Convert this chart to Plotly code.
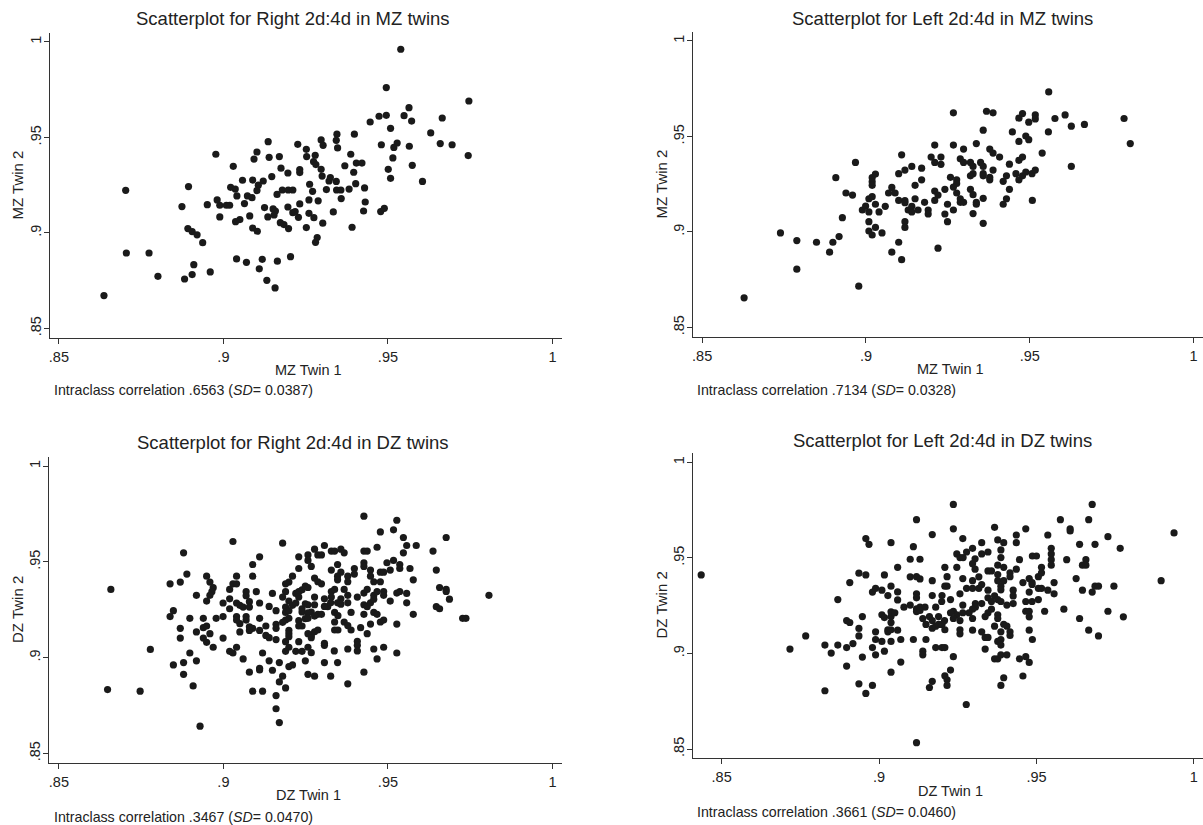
import plotly.graph_objects as go

# (twin1, twin2) pairs
mz_right = [
    (.8637,.8672),(.8703,.9223),(.8705,.8895),(.8774,.8895),(.8801,.8773),(.8977,.9412),(.9030,.9349),
    (.8894,.9243),(.8874,.9138),(.8951,.9148),(.8981,.9173),(.8989,.9145),(.9009,.9145),(.9019,.9145),
    (.8989,.9084),(.8892,.9023),(.8905,.9007),(.8920,.8990),(.8937,.8949),(.8910,.8834),(.8905,.8782),
    (.8882,.8759),(.8960,.8796),(.9040,.8864),(.9070,.8846),(.9118,.8862),(.9109,.8812),(.9164,.8852),
    (.9204,.8876),(.9132,.8752),(.9157,.8712),(.9136,.9478),(.9102,.9424),(.9093,.9387),(.9139,.9396),
    (.9170,.9400),(.9226,.9464),(.9252,.9438),(.9253,.9400),(.9175,.9339),(.9196,.9314),(.9232,.9332),
    (.9232,.9316),(.9147,.9295),(.9121,.9272),(.9089,.9277),(.9058,.9276),(.9022,.9239),(.9036,.9230),
    (.9106,.9250),(.9102,.9222),(.9041,.9194),(.9073,.9194),(.9087,.9185),(.9064,.9154),(.9163,.9202),
    (.9179,.9225),(.9197,.9225),(.9211,.9225),(.9262,.9255),(.9125,.9133),(.9151,.9126),(.9158,.9115),
    (.9154,.9094),(.9135,.9084),(.9196,.9136),(.9232,.9152),(.9260,.9173),(.9080,.9089),(.9037,.9059),
    (.9050,.9070),(.9089,.9026),(.9103,.9009),(.9173,.9054),(.9184,.9044),(.9198,.9023),(.9211,.9106),
    (.9218,.9112),(.9228,.9082),(.9252,.9028),(.9260,.9103),
    (.9539,.9962),(.9495,.9761),(.9746,.9691),(.9564,.9656),(.9549,.9614),(.9572,.9586),(.9495,.9616),
    (.9473,.9611),(.9446,.9581),(.9665,.9602),(.9508,.9548),(.9630,.9524),(.9345,.9517),(.9398,.9517),
    (.9297,.9487),(.9343,.9485),(.9303,.9459),(.9347,.9445),(.9480,.9462),(.9528,.9471),(.9518,.9448),
    (.9565,.9454),(.9659,.9468),(.9695,.9462),(.9744,.9405),(.9387,.9412),(.9279,.9407),(.9274,.9373),
    (.9281,.9358),(.9297,.9333),(.9369,.9352),(.9404,.9366),(.9421,.9366),(.9515,.9393),(.9501,.9333),
    (.9574,.9354),(.9396,.9318),(.9300,.9298),(.9325,.9290),(.9321,.9272),(.9343,.9270),(.9508,.9286),
    (.9605,.9270),(.9402,.9258),(.9313,.9227),(.9271,.9218),(.9344,.9225),(.9357,.9225),(.9382,.9230),
    (.9429,.9236),(.9358,.9180),(.9288,.9168),(.9431,.9162),(.9426,.9115),(.9334,.9110),(.9478,.9112),
    (.9489,.9129),(.9275,.9080),(.9302,.9051),(.9391,.9030),(.9285,.8976),(.9280,.8951),
]

mz_left = [
    (.8628,.8655),(.8739,.8995),(.8789,.8955),(.8789,.8805),(.8849,.8946),(.8899,.8946),(.8889,.8894),
    (.8918,.8976),(.8928,.9075),(.8908,.9284),(.8939,.9204),(.8959,.9193),(.8968,.9364),(.8978,.8716),
    (.8989,.9115),(.8999,.9136),(.9009,.9174),(.9019,.9185),(.9009,.9105),(.9009,.9054),(.9009,.9005),
    (.9019,.8984),(.9029,.9024),(.9049,.8995),(.9029,.9145),(.9040,.9105),(.9059,.9134),(.9019,.9284),
    (.9019,.9263),(.9019,.9244),(.9029,.9303),(.9069,.9204),(.9079,.9233),(.9089,.9204),(.9100,.9305),
    (.9109,.9404),(.9119,.9324),(.9140,.9343),(.9170,.9334),(.9150,.9244),(.9170,.9273),(.9100,.9165),
    (.9119,.9164),(.9119,.9153),(.9129,.9115),(.9140,.9134),(.9140,.9105),(.9150,.9174),(.9159,.9115),
    (.9179,.9155),(.9190,.9115),(.9190,.9094),(.9119,.9054),(.9119,.9024),(.9100,.8946),(.9079,.8894),
    (.9109,.8855),(.9220,.8915),(.9210,.9455),(.9199,.9392),(.9229,.9392),(.9210,.9364),(.9229,.9354),
    (.9210,.9214),(.9220,.9193),(.9210,.9165),(.9241,.9223),(.9249,.9145),(.9241,.9094),(.9249,.9054),
    (.9558,.9733),(.9267,.9624),(.9368,.9632),(.9388,.9624),(.9467,.9596),(.9478,.9620),(.9497,.9575),
    (.9517,.9613),(.9517,.9592),(.9577,.9594),(.9608,.9613),(.9627,.9554),(.9667,.9563),(.9788,.9594),
    (.9807,.9463),(.9358,.9533),(.9447,.9524),(.9557,.9524),(.9467,.9474),(.9488,.9502),(.9497,.9483),
    (.9267,.9455),(.9298,.9434),(.9337,.9463),(.9378,.9434),(.9388,.9413),(.9408,.9392),(.9538,.9413),
    (.9467,.9375),(.9478,.9392),(.9288,.9383),(.9298,.9364),(.9319,.9364),(.9327,.9343),(.9350,.9364),
    (.9358,.9343),(.9438,.9355),(.9627,.9343),(.9388,.9324),(.9358,.9305),(.9358,.9294),(.9327,.9305),
    (.9319,.9294),(.9378,.9286),(.9378,.9273),(.9429,.9294),(.9419,.9265),(.9458,.9305),(.9467,.9273),
    (.9478,.9294),(.9488,.9314),(.9507,.9305),(.9517,.9324),(.9258,.9286),(.9277,.9273),(.9277,.9254),
    (.9267,.9235),(.9277,.9204),(.9288,.9174),(.9288,.9155),(.9298,.9155),(.9319,.9223),(.9327,.9195),
    (.9337,.9155),(.9337,.9145),(.9358,.9176),(.9438,.9223),(.9429,.9174),(.9419,.9145),(.9508,.9165),
    (.9267,.9115),(.9327,.9096),(.9358,.9045),
]

dz_right = [
    (.8658,.9356),(.8648,.8833),(.8747,.8825),(.8778,.9043),(.8929,.8642),(.8879,.9547),(.8838,.9385),
    (.8869,.9394),(.8889,.9436),(.8918,.9325),(.8838,.9214),(.8848,.9245),(.8869,.9153),(.8869,.9102),
    (.8898,.9205),(.8918,.9134),(.8939,.9205),(.8939,.9156),(.8949,.9165),(.8939,.9102),(.8949,.9080),
    (.8959,.9125),(.8969,.9054),(.8898,.9024),(.8918,.8983),(.8879,.8974),(.8848,.8962),(.8879,.8913),
    (.8908,.8852),(.8949,.9425),(.8959,.9394),(.8969,.9365),(.8965,.9344),(.8959,.9325),(.8949,.9295),
    (.8978,.9205),(.8999,.9214),(.8999,.9285),(.8999,.9102),(.9019,.9307),(.9019,.9255),(.9019,.9356),
    (.9029,.9385),(.9040,.9385),(.9040,.9425),(.9029,.9606),(.9040,.9285),(.9050,.9273),(.9060,.9264),
    (.9040,.9214),(.9050,.9177),(.9040,.9196),(.9069,.9344),(.9069,.9323),(.9079,.9292),(.9079,.9264),
    (.9069,.9214),(.9069,.9196),(.9079,.9161),(.9089,.9153),(.9079,.9142),(.9050,.9134),(.9019,.9033),
    (.9029,.9024),(.9040,.9054),(.9060,.8993),(.9079,.8924),(.9089,.8825),(.9119,.8825),(.9110,.8944),
    (.9110,.8936),(.9119,.9024),(.9139,.8983),(.9149,.8934),(.9170,.8974),(.9180,.8903),(.9170,.8873),
    (.9189,.8842),(.9160,.8802),(.9160,.8733),(.9170,.8661),(.9089,.9486),(.9110,.9526),(.9089,.9425),
    (.9100,.9344),(.9110,.9285),(.9110,.9205),(.9110,.9142),(.9129,.9165),(.9129,.9116),(.9139,.9104),
    (.9139,.9267),(.9149,.9335),(.9160,.9245),(.9160,.9174),(.9160,.9153),(.9160,.9094),(.9180,.9597),
    (.9229,.9526),(.9229,.9465),(.9210,.9425),(.9199,.9394),(.9189,.9385),(.9189,.9344),(.9180,.9316),
    (.9199,.9295),(.9189,.9264),(.9210,.9273),(.9189,.9236),(.9199,.9245),(.9189,.9196),(.9199,.9205),
    (.9180,.9184),(.9199,.9142),(.9199,.9125),(.9199,.9109),(.9189,.9083),(.9199,.9054),(.9189,.9033),
    (.9220,.9033),(.9199,.8953),(.9210,.8962),(.9220,.9335),(.9229,.9344),(.9239,.9354),(.9249,.9373),
    (.9229,.9316),(.9220,.9285),(.9239,.9255),(.9239,.9238),(.9249,.9281),(.9229,.9193),(.9239,.9165),
    (.9229,.9165),(.9249,.9203),(.9229,.9083),(.9239,.9033),(.9249,.8983),
    (.9427,.9738),(.9527,.9717),(.9477,.9656),(.9517,.9667),(.9547,.9627),(.9677,.9627),(.9557,.9585),
    (.9586,.9585),(.9547,.9547),(.9637,.9556),(.9467,.9576),(.9427,.9556),(.9437,.9556),(.9307,.9585),
    (.9277,.9566),(.9328,.9556),(.9338,.9556),(.9357,.9566),(.9367,.9547),(.9257,.9536),(.9287,.9536),
    (.9298,.9536),(.9257,.9507),(.9267,.9476),(.9347,.9486),(.9328,.9457),(.9357,.9446),(.9347,.9425),
    (.9347,.9406),(.9378,.9425),(.9378,.9396),(.9398,.9465),(.9398,.9436),(.9427,.9495),(.9427,.9476),
    (.9447,.9457),(.9447,.9425),(.9457,.9396),(.9477,.9446),(.9487,.9446),(.9477,.9396),(.9497,.9495),
    (.9517,.9507),(.9507,.9457),(.9536,.9486),(.9536,.9465),(.9567,.9465),(.9577,.9406),(.9647,.9457),
    (.9277,.9415),(.9287,.9396),(.9298,.9385),(.9257,.9366),(.9277,.9316),(.9307,.9307),(.9328,.9345),
    (.9338,.9356),(.9367,.9356),(.9378,.9325),(.9357,.9307),(.9328,.9316),(.9347,.9286),(.9326,.9286),
    (.9317,.9266),(.9307,.9267),(.9257,.9276),(.9277,.9276),(.9267,.9238),(.9287,.9226),(.9298,.9226),
    (.9277,.9217),(.9257,.9234),(.9257,.9205),(.9338,.9236),(.9348,.9219),(.9338,.9186),(.9338,.9144),
    (.9348,.9144),(.9367,.9186),(.9378,.9167),(.9388,.9144),(.9357,.9279),(.9378,.9286),(.9388,.9236),
    (.9407,.9316),(.9427,.9337),(.9437,.9356),(.9427,.9276),(.9437,.9266),(.9447,.9286),(.9457,.9305),
    (.9457,.9325),(.9467,.9345),(.9487,.9345),(.9487,.9325),(.9427,.9226),(.9457,.9236),(.9467,.9226),
    (.9447,.9175),(.9477,.9186),(.9487,.9196),(.9417,.9156),(.9437,.9125),(.9507,.9295),(.9527,.9337),
    (.9536,.9345),(.9557,.9335),(.9557,.9286),(.9577,.9226),(.9527,.9175),(.9647,.9266),(.9657,.9255),
    (.9657,.9366),(.9677,.9356),(.9677,.9345),(.9687,.9305),(.9727,.9205),(.9737,.9205),(.9807,.9325),
    (.9257,.9125),(.9267,.9115),(.9277,.9135),(.9287,.9144),(.9267,.9104),(.9257,.9054),(.9267,.9026),
    (.9307,.9075),(.9307,.9064),(.9337,.9035),(.9378,.9045),(.9407,.9085),(.9407,.9064),(.9407,.9035),
    (.9457,.9045),(.9487,.9054),(.9467,.8993),(.9527,.9024),(.9307,.8974),(.9347,.8974),(.9257,.8913),
    (.9277,.8903),(.9326,.8903),(.9427,.8924),(.9378,.8863),
]

dz_left = [
    (.8435,.9411),(.8717,.9023),(.8767,.9092),(.8828,.9044),(.8848,.9002),(.8869,.9044),(.8828,.8805),
    (.8897,.9031),(.8917,.9052),(.8897,.8934),(.8869,.9282),(.8907,.9371),(.8897,.9172),(.8907,.9162),
    (.8936,.9420),(.8958,.9411),(.8958,.9601),(.8968,.9571),(.8936,.9131),(.8936,.9092),(.8947,.9193),
    (.8947,.8981),(.8936,.8841),(.8958,.8791),(.8979,.8833),(.8979,.9031),(.8989,.9113),(.8989,.9073),
    (.8989,.8993),(.8979,.9321),(.8989,.9341),(.9009,.9331),(.9017,.9411),(.9028,.9303),(.9038,.9352),
    (.9038,.9580),(.9059,.9322),(.9059,.9280),(.9059,.9451),(.9009,.9202),(.9017,.9188),(.9028,.9124),
    (.9028,.9113),(.9038,.9218),(.9038,.9193),(.9038,.9162),(.9050,.9213),(.9038,.9124),(.9059,.9122),
    (.9038,.9063),(.9017,.9012),(.9009,.9063),(.9069,.9073),(.9069,.8955),(.9038,.8902),(.9099,.9493),
    (.9130,.9493),(.9109,.9559),(.9119,.9700),(.9099,.9401),(.9119,.9402),(.9130,.9390),(.9119,.9312),
    (.9119,.9291),(.9079,.9242),(.9099,.9253),(.9119,.9233),(.9119,.9219),(.9130,.9242),(.9146,.9242),
    (.9130,.9225),(.9109,.9073),(.9139,.9012),(.9139,.8993),(.9149,.9073),(.9169,.9622),(.9169,.9381),
    (.9209,.9451),(.9169,.9303),(.9200,.9303),(.9199,.9272),(.9180,.9242),(.9139,.9183),(.9160,.9193),
    (.9149,.9152),(.9169,.9172),(.9169,.9132),(.9180,.9143),(.9189,.9193),(.9189,.9152),(.9200,.9152),
    (.9209,.9124),(.9180,.9031),(.9200,.9031),(.9209,.9031),(.9169,.8854),(.9160,.8822),(.9209,.8883),
    (.9209,.9352),(.9119,.8533),
    (.9236,.9780),(.9677,.9780),(.9576,.9700),(.9666,.9700),(.9236,.9652),(.9367,.9660),(.9466,.9652),
    (.9436,.9620),(.9607,.9652),(.9607,.9641),(.9536,.9620),(.9727,.9611),(.9937,.9631),(.9266,.9601),
    (.9326,.9580),(.9377,.9594),(.9396,.9580),(.9436,.9580),(.9637,.9571),(.9686,.9571),(.9766,.9550),
    (.9297,.9550),(.9346,.9531),(.9326,.9521),(.9387,.9542),(.9247,.9521),(.9278,.9531),(.9257,.9502),
    (.9267,.9502),(.9305,.9495),(.9387,.9502),(.9547,.9550),(.9547,.9521),(.9547,.9491),(.9547,.9462),
    (.9487,.9510),(.9500,.9510),(.9446,.9491),(.9596,.9491),(.9657,.9491),(.9247,.9451),(.9297,.9470),
    (.9305,.9441),(.9377,.9462),(.9396,.9451),(.9346,.9432),(.9357,.9432),(.9416,.9422),(.9416,.9402),
    (.9436,.9441),(.9516,.9451),(.9506,.9402),(.9516,.9422),(.9646,.9462),(.9657,.9462),(.9216,.9402),
    (.9266,.9392),(.9297,.9381),(.9317,.9401),(.9377,.9413),(.9377,.9381),(.9387,.9352),(.9396,.9381),
    (.9477,.9392),(.9486,.9371),(.9486,.9361),(.9457,.9371),(.9556,.9371),(.9626,.9392),(.9896,.9381),
    (.9216,.9352),(.9278,.9341),(.9297,.9341),(.9317,.9341),(.9326,.9361),(.9346,.9331),(.9367,.9301),
    (.9387,.9333),(.9426,.9331),(.9426,.9301),(.9506,.9341),(.9516,.9341),(.9536,.9331),(.9556,.9312),
    (.9477,.9321),(.9646,.9331),(.9677,.9321),(.9686,.9352),(.9697,.9352),(.9746,.9352),(.9227,.9282),
    (.9257,.9312),(.9266,.9253),(.9306,.9261),(.9306,.9242),(.9326,.9261),(.9346,.9291),(.9357,.9272),
    (.9377,.9282),(.9387,.9272),(.9406,.9253),(.9426,.9261),(.9466,.9272),(.9486,.9272),(.9506,.9282),
    (.9357,.9232),(.9346,.9213),(.9337,.9193),(.9297,.9232),(.9286,.9213),(.9297,.9183),(.9266,.9213),
    (.9236,.9221),(.9247,.9202),(.9227,.9213),(.9257,.9172),(.9208,.9172),(.9236,.9183),(.9257,.9124),
    (.9257,.9103),(.9297,.9122),(.9326,.9113),(.9337,.9084),(.9346,.9084),(.9377,.9202),(.9377,.9183),
    (.9367,.9143),(.9396,.9153),(.9406,.9143),(.9387,.9113),(.9416,.9113),(.9416,.9094),(.9466,.9221),
    (.9477,.9221),(.9477,.9192),(.9526,.9221),(.9587,.9232),(.9637,.9183),(.9727,.9221),(.9776,.9192),
    (.9666,.9122),(.9697,.9092),(.9477,.9122),(.9487,.9073),(.9387,.9073),(.9377,.9063),(.9387,.9044),
    (.9337,.9023),(.9236,.8983),(.9367,.8972),(.9377,.8972),(.9387,.8993),(.9406,.8993),(.9446,.8972),
    (.9466,.8983),(.9477,.8953),(.9227,.8913),(.9216,.8862),(.9216,.8833),(.9396,.8873),(.9387,.8833),
    (.9457,.8882),(.9277,.8733),
]

tick_vals = [0.85, 0.9, 0.95, 1.0]
tick_text = [".85", ".9", ".95", "1"]

titles = ["Scatterplot for Right 2d:4d in MZ twins", "Scatterplot for Left 2d:4d in MZ twins",
          "Scatterplot for Right 2d:4d in DZ twins", "Scatterplot for Left 2d:4d in DZ twins"]
x_titles = ["MZ Twin 1", "MZ Twin 1", "DZ Twin 1", "DZ Twin 1"]
y_titles = ["MZ Twin 2", "MZ Twin 2", "DZ Twin 2", "DZ Twin 2"]
notes = ["Intraclass correlation .6563 (<i>SD</i>= 0.0387)",
         "Intraclass correlation .7134 (<i>SD</i>= 0.0328)",
         "Intraclass correlation .3467 (<i>SD</i>= 0.0470)",
         "Intraclass correlation .3661 (<i>SD</i>= 0.0460)"]
datasets = [mz_right, mz_left, dz_right, dz_left]

W, H = 1203, 825
# pixel geometry of each panel: plot box, axis ranges, text rows
geom = [
    dict(x0=50, x1=562, y0=33, y1=338, xr=[0.8473, 1.0029], yr=[0.845, 1.0047],
         tx=293, ty=18, xtx=308, xty=370, ny=390, ytx=17, nx=52),
    dict(x0=693, x1=1203, y0=32, y1=337, xr=[0.8472, 1.0029], yr=[0.845, 1.0047],
         tx=942, ty=18, xtx=950, xty=369, ny=390, ytx=661, nx=695),
    dict(x0=49, x1=562, y0=457, y1=763, xr=[0.8470, 1.0029], yr=[0.845, 1.0047],
         tx=293, ty=442, xtx=308, xty=795, ny=817, ytx=17, nx=52),
    dict(x0=693, x1=1203, y0=453, y1=758, xr=[0.8409, 1.0029], yr=[0.8453, 1.0049],
         tx=942, ty=440, xtx=950, xty=791, ny=812, ytx=661, nx=695),
]

FONT = "Liberation Sans, Arial, Helvetica, sans-serif"
TXT = "#222222"
AX = "#333333"

fig = go.Figure()
layout = dict(width=W, height=H, margin=dict(l=0, r=0, t=0, b=0),
              paper_bgcolor="white", plot_bgcolor="white", showlegend=False,
              font=dict(family=FONT, color=TXT))
annotations = []

def px(x):
    return x / W

def py(y):
    return 1 - y / H

for i, (data, g) in enumerate(zip(datasets, geom)):
    n = "" if i == 0 else str(i + 1)
    xs = [p[0] for p in data]
    ys = [p[1] for p in data]
    fig.add_trace(go.Scatter(x=xs, y=ys, mode="markers", xaxis="x" + n, yaxis="y" + n,
                             marker=dict(size=7.2, color="#1a1a1a", line=dict(width=0)),
                             hoverinfo="x+y"))
    common = dict(showgrid=False, zeroline=False, showline=True, linecolor=AX, linewidth=1.3,
                  ticks="outside", ticklen=5, tickwidth=1.1, tickcolor=AX,
                  tickvals=tick_vals, ticktext=tick_text,
                  tickfont=dict(family=FONT, size=14.5, color=TXT), fixedrange=True)
    layout["xaxis" + n] = dict(common, domain=[px(g["x0"]), px(g["x1"])], range=g["xr"],
                               anchor="y" + n)
    layout["yaxis" + n] = dict(common, domain=[py(g["y1"]), py(g["y0"])], range=g["yr"],
                               anchor="x" + n, tickangle=-90, ticklabelstandoff=-3)
    cy = (g["y0"] + g["y1"]) / 2
    annotations += [
        dict(text=titles[i], x=px(g["tx"]), y=py(g["ty"]), xref="paper", yref="paper",
             xanchor="center", yanchor="middle", showarrow=False,
             font=dict(family=FONT, size=18.5, color=TXT)),
        dict(text=x_titles[i], x=px(g["xtx"]), y=py(g["xty"]), xref="paper", yref="paper",
             xanchor="center", yanchor="middle", showarrow=False,
             font=dict(family=FONT, size=14.5, color=TXT)),
        dict(text=y_titles[i], x=px(g["ytx"]), y=py(cy), xref="paper", yref="paper",
             xanchor="center", yanchor="middle", showarrow=False, textangle=-90,
             font=dict(family=FONT, size=15, color=TXT)),
        dict(text=notes[i], x=px(g["nx"]), y=py(g["ny"]), xref="paper", yref="paper",
             xanchor="left", yanchor="middle", showarrow=False,
             font=dict(family=FONT, size=14.2, color=TXT)),
    ]

layout["annotations"] = annotations
fig.update_layout(**layout)
fig.write_html(
    "out.html",
    config={"displayModeBar": False},
    post_script="document.body.style.margin='0px';document.body.style.overflow='hidden';",
)
